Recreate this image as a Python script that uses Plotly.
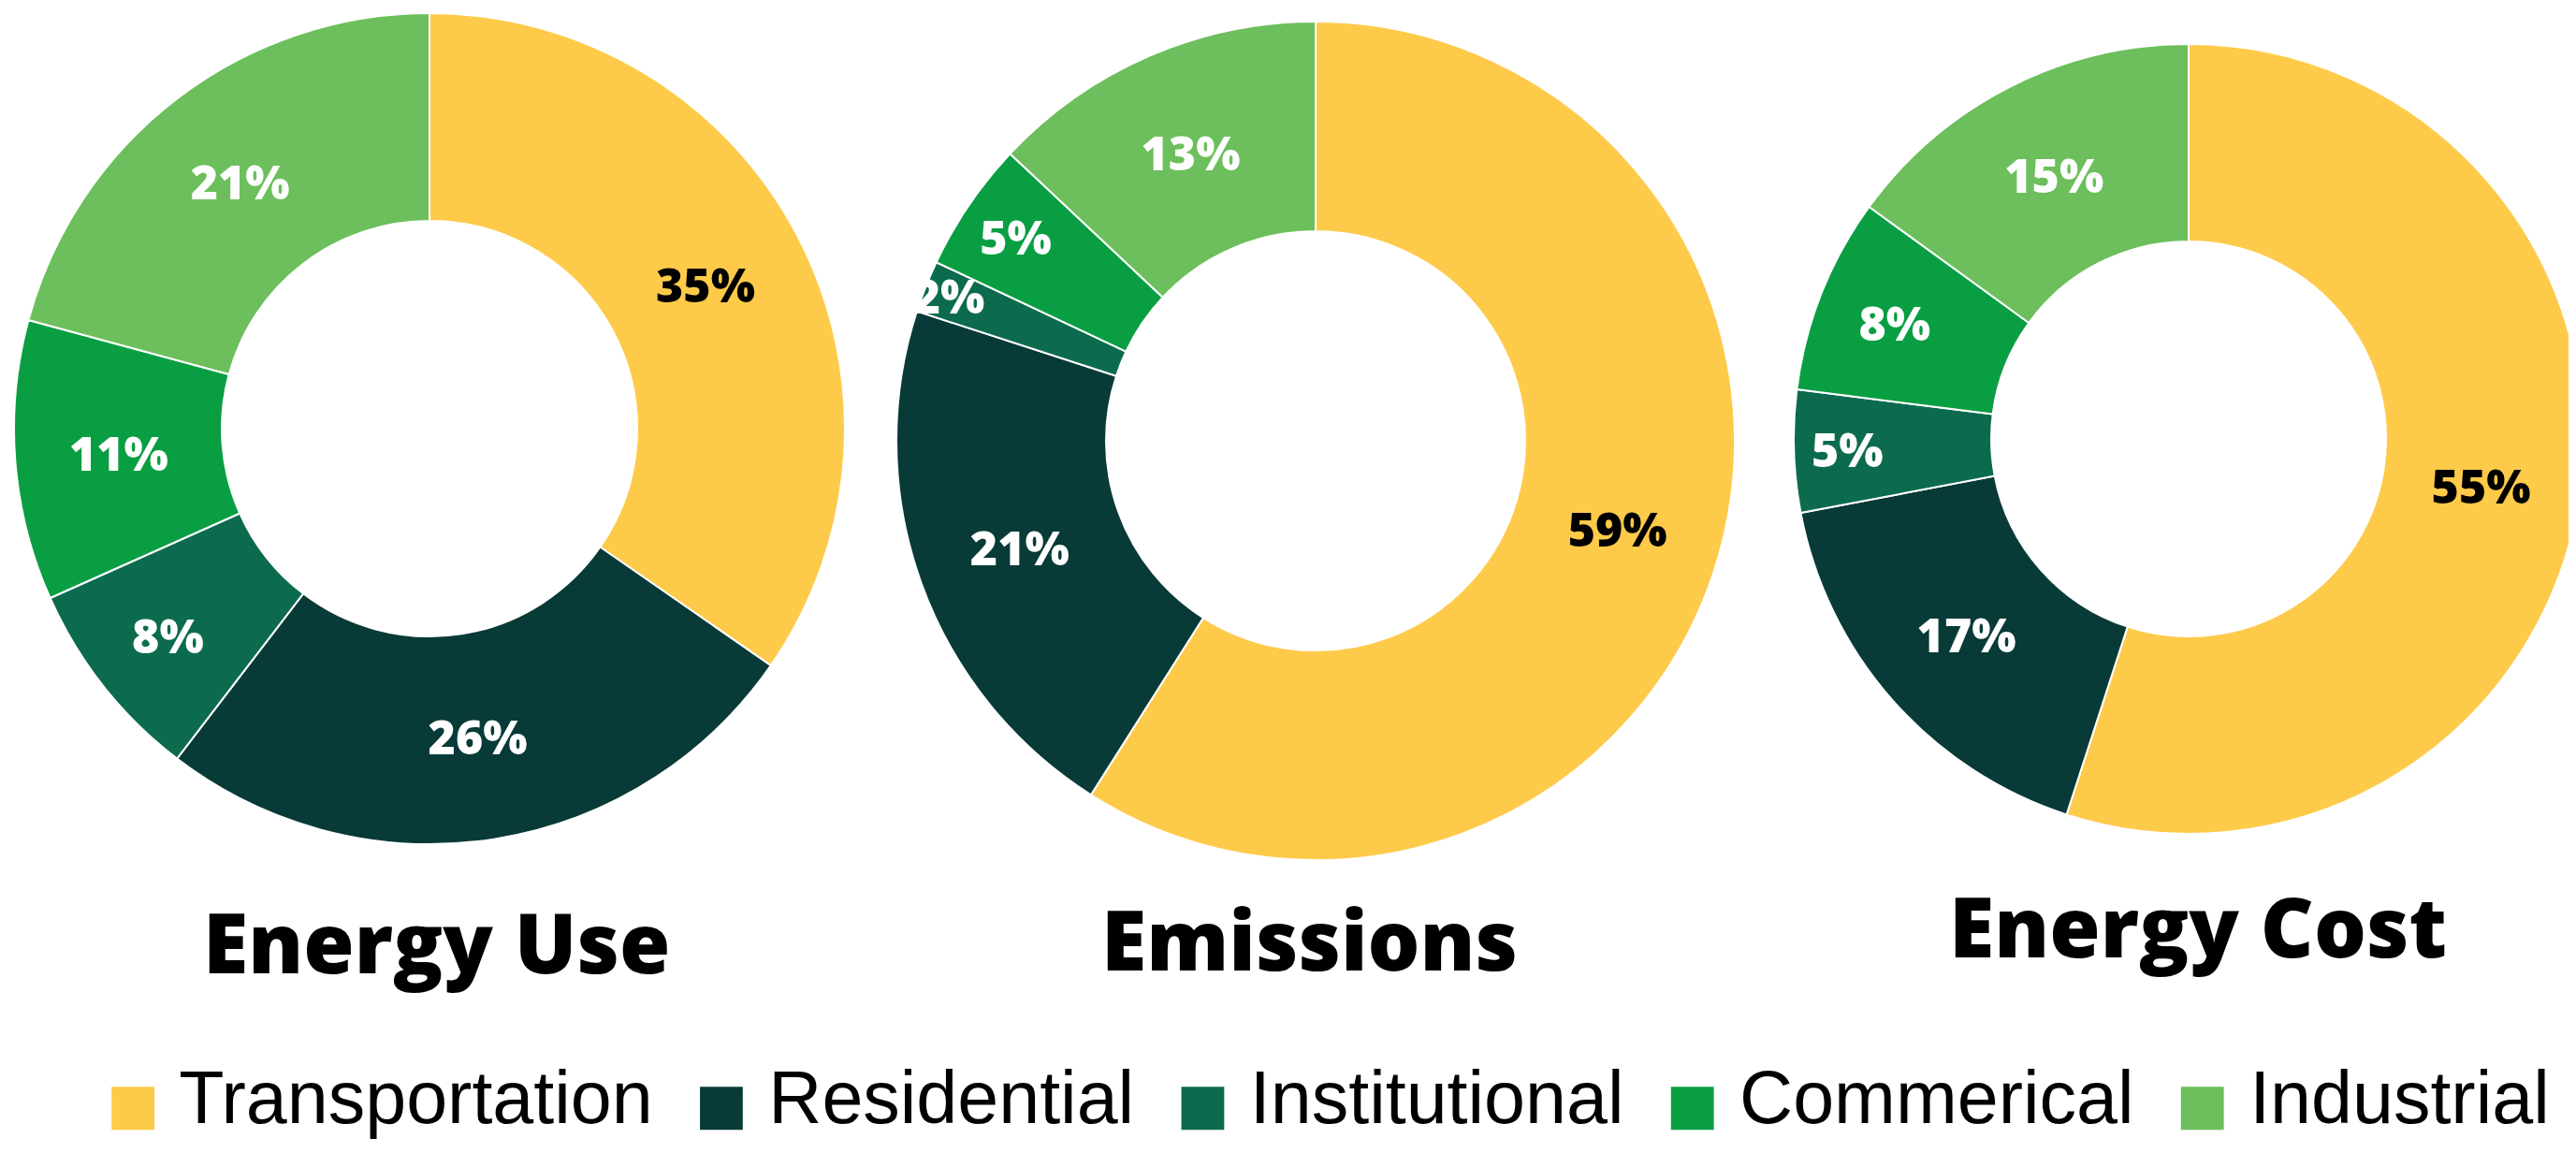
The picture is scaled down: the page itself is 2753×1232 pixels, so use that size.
import plotly.graph_objects as go

# ---- data ----
categories = ["Transportation", "Residential", "Institutional", "Commerical", "Industrial"]
energy_use = [35, 26, 8, 11, 21]
emissions = [59, 21, 2, 5, 13]
energy_cost = [55, 17, 5, 8, 15]
chart_titles = ["Energy Use", "Emissions", "Energy Cost"]

# ---- styles ----
colors = ["#FECA4A", "#083A38", "#0C6B4E", "#0A9E43", "#6CBF5C"]
label_colors = ["#000000", "#FFFFFF", "#FFFFFF", "#FFFFFF", "#FFFFFF"]
W, H = 2753, 1232
BOLD = "Open Sans, Inter, Roboto, sans-serif"
LEG = "Liberation Sans, Arial, sans-serif"

domains = [
    dict(x=[7 / W, 895 / W], y=[1 - 894 / H, 1 - 6 / H]),
    dict(x=[950 / W, 1846 / W], y=[1 - 911 / H, 1 - 15 / H]),
    dict(x=[1909 / W, 1.0], y=[1 - 883 / H, 1 - 39 / H]),
]
title_pos = [(458, 998), (1391, 995), (2341, 981)]

fig = go.Figure()
for vals, dom in zip([energy_use, emissions, energy_cost], domains):
    fig.add_trace(go.Pie(
        labels=categories,
        values=vals,
        hole=0.5,
        sort=False,
        direction="clockwise",
        rotation=0,
        domain=dom,
        marker=dict(colors=colors, line=dict(color="white", width=2)),
        texttemplate="%{percent:.0%}",
        textposition="inside",
        insidetextorientation="horizontal",
        textfont=dict(family=BOLD, size=50, color=label_colors, weight=800),
        showlegend=False,
        hoverinfo="label+percent",
    ))

# legend entries (large coloured squares as text glyphs)
for cat, col in zip(categories, colors):
    fig.add_trace(go.Scatter(
        x=[None], y=[None], mode="lines",
        line=dict(width=0, color=col),
        name=f'<span style="color:{col};font-family:DejaVu Sans;font-size:60px">■</span> {cat}',
        showlegend=True, hoverinfo="skip",
    ))

annotations = []
for t, (tx, ty) in zip(chart_titles, title_pos):
    annotations.append(dict(
        text=t, x=tx / W, y=1 - ty / H, xref="paper", yref="paper",
        xanchor="center", yanchor="middle", showarrow=False,
        font=dict(family=BOLD, size=88, color="black", weight=800),
    ))

fig.update_layout(
    width=W, height=H,
    margin=dict(l=0, r=0, t=0, b=0, autoexpand=False),
    paper_bgcolor="white", plot_bgcolor="white",
    xaxis=dict(visible=False), yaxis=dict(visible=False),
    uniformtext=dict(minsize=50, mode="show"),
    annotations=annotations,
    legend=dict(
        orientation="h", x=66 / W, y=1 - 1161 / H, xanchor="left", yanchor="middle",
        font=dict(family=LEG, size=79, color="black"),
        itemwidth=30, bgcolor="rgba(0,0,0,0)",
    ),
    shapes=[dict(type="line", xref="paper", yref="paper",
                 x0=2743 / W, x1=2743 / W, y0=1 - 1212 / H, y1=1 - 1054 / H,
                 line=dict(color="#BBBBBB", width=2))],
)

fig.write_html("out.html")
